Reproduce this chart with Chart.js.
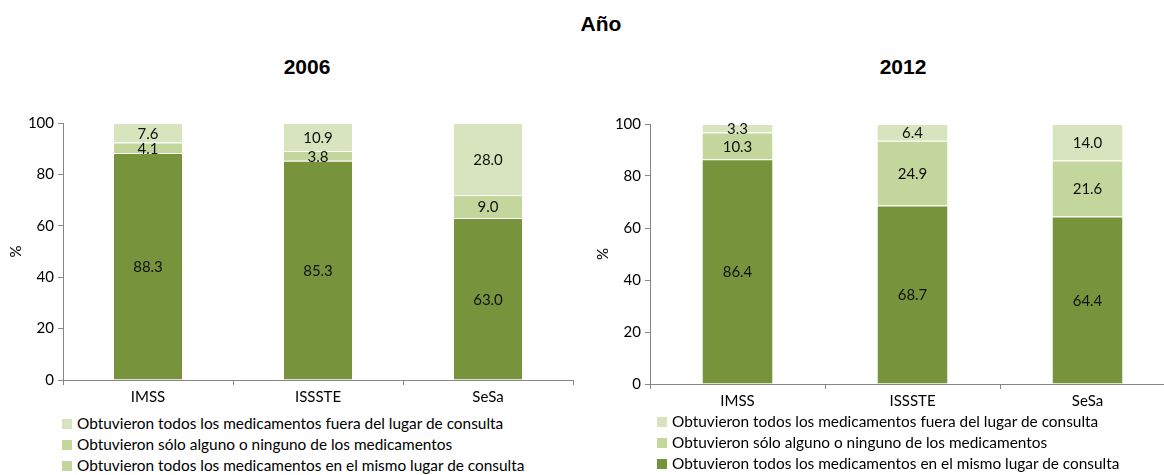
<!DOCTYPE html>
<html>
<head>
<meta charset="utf-8">
<script src="https://cdn.jsdelivr.net/npm/chart.js@4.4.0/dist/chart.umd.min.js"></script>
<style>
  body { margin: 0; width: 1164px; height: 475px; overflow: hidden; background: #fff; position: relative; font-family: Lato, sans-serif; }
  .ttl { position: absolute; font-family: "Liberation Sans", Arial, sans-serif; font-weight: bold; color: #000; text-align: center; }
  .box { position: absolute; }
  .legend { position: absolute; font-size: 15.4px; color: #000; }
  .legend div { height: 21px; line-height: 21px; white-space: nowrap; }
  .legend span { display: inline-block; width: 10px; height: 10px; margin-right: 5px; vertical-align: -0px; }
</style>
</head>
<body>
<div class="ttl" style="left:501px; top:12px; width:200px; font-size:21px;">Año</div>
<div class="ttl" style="left:207px; top:55px; width:200px; font-size:21px;">2006</div>
<div class="ttl" style="left:803px; top:55px; width:200px; font-size:21px;">2012</div>

<div class="box" style="left:0px; top:110px; width:580px; height:300px;"><canvas id="c2006"></canvas></div>
<div class="box" style="left:587px; top:111px; width:600px; height:303px;"><canvas id="c2012"></canvas></div>

<div class="legend" id="leg2006" style="left:62px; top:413px;"></div>
<div class="legend" id="leg2012" style="left:657px; top:411px;"></div>

<script>
const categories = ['IMSS', 'ISSSTE', 'SeSa'];
const seriesNames = [
    'Obtuvieron todos los medicamentos fuera del lugar de consulta',
    'Obtuvieron sólo alguno o ninguno de los medicamentos',
    'Obtuvieron todos los medicamentos en el mismo lugar de consulta'
];

// 2006
const mismo2006 = [88.3, 85.3, 63.0];
const alguno2006 = [4.1, 3.8, 9.0];
const fuera2006 = [7.6, 10.9, 28.0];

// 2012
const mismo2012 = [86.4, 68.7, 64.4];
const alguno2012 = [10.3, 24.9, 21.6];
const fuera2012 = [3.3, 6.4, 14.0];

const yTicks = [0, 20, 40, 60, 80, 100];

const colDark = '#77933c';
const colMid = '#c3d69b';
const colLight = '#d7e4bd';

// legend swatches (the 2006 legend in the original shows the lighter green on the last item)
const swatches2006 = [colLight, colMid, colMid];
const swatches2012 = [colLight, colMid, colDark];

// draw the value in the middle of each stacked segment
const segmentLabels = {
    id: 'segmentLabels',
    afterDatasetsDraw(chart) {
        const ctx = chart.ctx;
        ctx.save();
        ctx.font = '15px Lato, sans-serif';
        ctx.fillStyle = '#111';
        ctx.textAlign = 'center';
        ctx.textBaseline = 'middle';
        chart.data.datasets.forEach((ds, i) => {
            chart.getDatasetMeta(i).data.forEach((bar, j) => {
                const y = (bar.y + bar.base) / 2;
                ctx.fillText(ds.data[j].toFixed(1), bar.x, y + 1);
            });
        });
        ctx.restore();
    }
};

function makeChart(id, mismo, alguno, fuera, padRight, xHeight) {
    const ctx = document.getElementById(id).getContext('2d');
    const seg = (label, data, color) => ({
        label: label,
        data: data,
        backgroundColor: color,
        borderColor: '#ffffff',
        borderWidth: { top: 1, bottom: 0, left: 0, right: 0 },
        borderSkipped: false,
        barPercentage: 0.4,
        categoryPercentage: 1.0
    });
    return new Chart(ctx, {
        type: 'bar',
        data: {
            labels: categories,
            datasets: [
                seg(seriesNames[2], mismo, colDark),
                seg(seriesNames[1], alguno, colMid),
                seg(seriesNames[0], fuera, colLight)
            ]
        },
        options: {
            responsive: true,
            maintainAspectRatio: false,
            animation: false,
            layout: { padding: { top: 13, right: padRight, left: 0, bottom: 0 } },
            plugins: { legend: { display: false }, tooltip: { enabled: false } },
            scales: {
                x: {
                    stacked: true,
                    grid: { offset: true, drawOnChartArea: false, tickLength: 5, color: '#868686' },
                    border: { color: '#868686' },
                    ticks: { color: '#000', font: { family: 'Lato, sans-serif', size: 15 }, padding: 3 },
                    afterFit: s => { s.height = xHeight; }
                },
                y: {
                    stacked: true,
                    min: 0,
                    max: 100,
                    afterBuildTicks: s => { s.ticks = yTicks.map(v => ({ value: v })); },
                    grid: { drawOnChartArea: false, tickLength: 5, color: '#868686' },
                    border: { color: '#868686' },
                    ticks: { color: '#000', font: { family: 'Lato, sans-serif', size: 15 }, padding: 4 },
                    title: { display: true, text: '%', color: '#000', font: { family: 'Lato, sans-serif', size: 15 }, padding: { top: 7, bottom: 0 } },
                    afterFit: s => { s.width = 63; }
                }
            }
        },
        plugins: [segmentLabels]
    });
}

makeChart('c2006', mismo2006, alguno2006, fuera2006, 7, 30);
makeChart('c2012', mismo2012, alguno2012, fuera2012, 12, 30);

function makeLegend(id, swatches) {
    const el = document.getElementById(id);
    seriesNames.forEach((name, i) => {
        const row = document.createElement('div');
        row.innerHTML = `<span style="background:${swatches[i]}"></span>${name}`;
        el.appendChild(row);
    });
}
makeLegend('leg2006', swatches2006);
makeLegend('leg2012', swatches2012);
</script>
</body>
</html>
